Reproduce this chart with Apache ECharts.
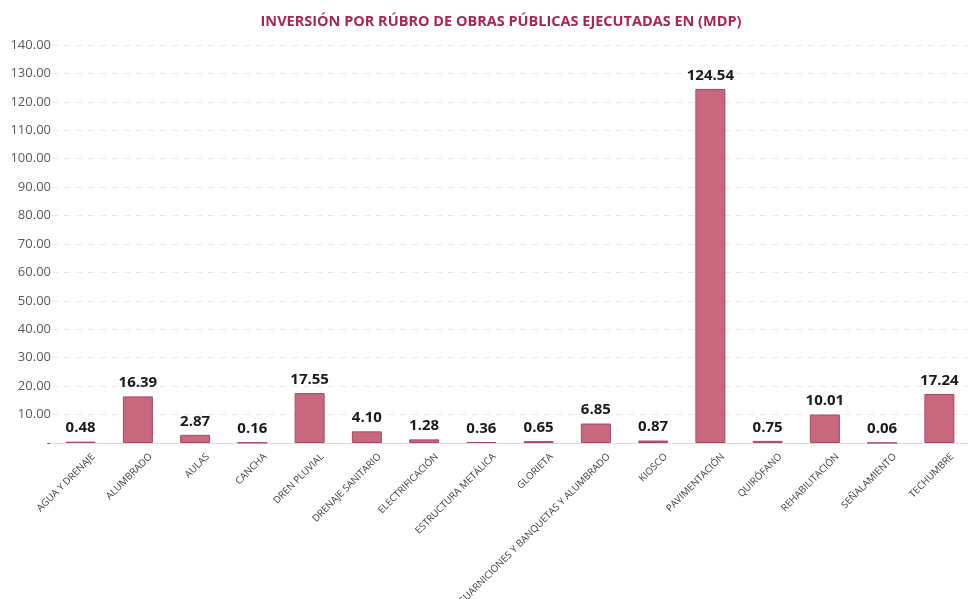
<!DOCTYPE html>
<html>
<head>
<meta charset="utf-8">
<script src="https://cdn.jsdelivr.net/npm/echarts@6/dist/echarts.min.js"></script>
<style>
  html, body { margin: 0; padding: 0; background: #fff; }
  #chartPanel { width: 968px; height: 599px; }
</style>
</head>
<body>
<div id="chartPanel"></div>
<script>
var categories = ['AGUA Y DRENAJE', 'ALUMBRADO', 'AULAS', 'CANCHA', 'DREN PLUVIAL', 'DRENAJE SANITARIO',
  'ELECTRIFICACIÓN', 'ESTRUCTURA METÁLICA', 'GLORIETA', 'GUARNICIONES Y BANQUETAS Y ALUMBRADO',
  'KIOSCO', 'PAVIMENTACIÓN', 'QUIRÓFANO', 'REHABILITACIÓN', 'SEÑALAMIENTO', 'TECHUMBRE'];
var inversion = [0.48, 16.39, 2.87, 0.16, 17.55, 4.10, 1.28, 0.36, 0.65, 6.85, 0.87, 124.54, 0.75, 10.01, 0.06, 17.24];
var yMin = 0, yMax = 140, yStep = 10;

var chartPanel = echarts.init(document.getElementById('chartPanel'));
var option = {
  animation: false,
  title: {
    text: 'INVERSIÓN POR RÚBRO DE OBRAS PÚBLICAS EJECUTADAS EN (MDP)',
    left: 496, textAlign: 'center', top: 9,
    textStyle: { fontFamily: 'Open Sans', fontSize: 14.5, fontWeight: 'bold', color: '#a82650' }
  },
  grid: { left: 52, right: 0, top: 45, bottom: 156, containLabel: false, outerBoundsMode: 'none' },
  xAxis: {
    type: 'category',
    data: categories,
    axisTick: { show: false },
    axisLine: { lineStyle: { color: '#dcdcdc' } },
    axisLabel: {
      interval: 0, rotate: 45, margin: 8,
      verticalAlign: 'top', lineHeight: 24,
      padding: [0, -6, 0, 0],
      fontFamily: 'Open Sans', fontSize: 9.8, color: '#404040'
    }
  },
  yAxis: {
    type: 'value', min: yMin, max: yMax, interval: yStep,
    axisLine: { show: false }, axisTick: { show: false },
    axisLabel: {
      margin: 1, fontFamily: 'Open Sans', fontSize: 13, color: '#595959',
      formatter: function (v) { return v === 0 ? '-' : v.toFixed(2); }
    },
    splitLine: { lineStyle: { color: '#e8e8e8', type: [6, 6] } }
  },
  series: [{
    type: 'bar',
    data: inversion,
    barWidth: 30,
    itemStyle: { color: '#c8687f', borderColor: '#a94862', borderWidth: 1 },
    label: {
      show: true, position: 'top', distance: 6,
      fontFamily: 'Open Sans', fontSize: 15, fontWeight: 'bold', color: '#1a1a1a',
      formatter: function (p) { return p.value.toFixed(2); }
    }
  }]
};
chartPanel.setOption(option);
</script>
</body>
</html>
